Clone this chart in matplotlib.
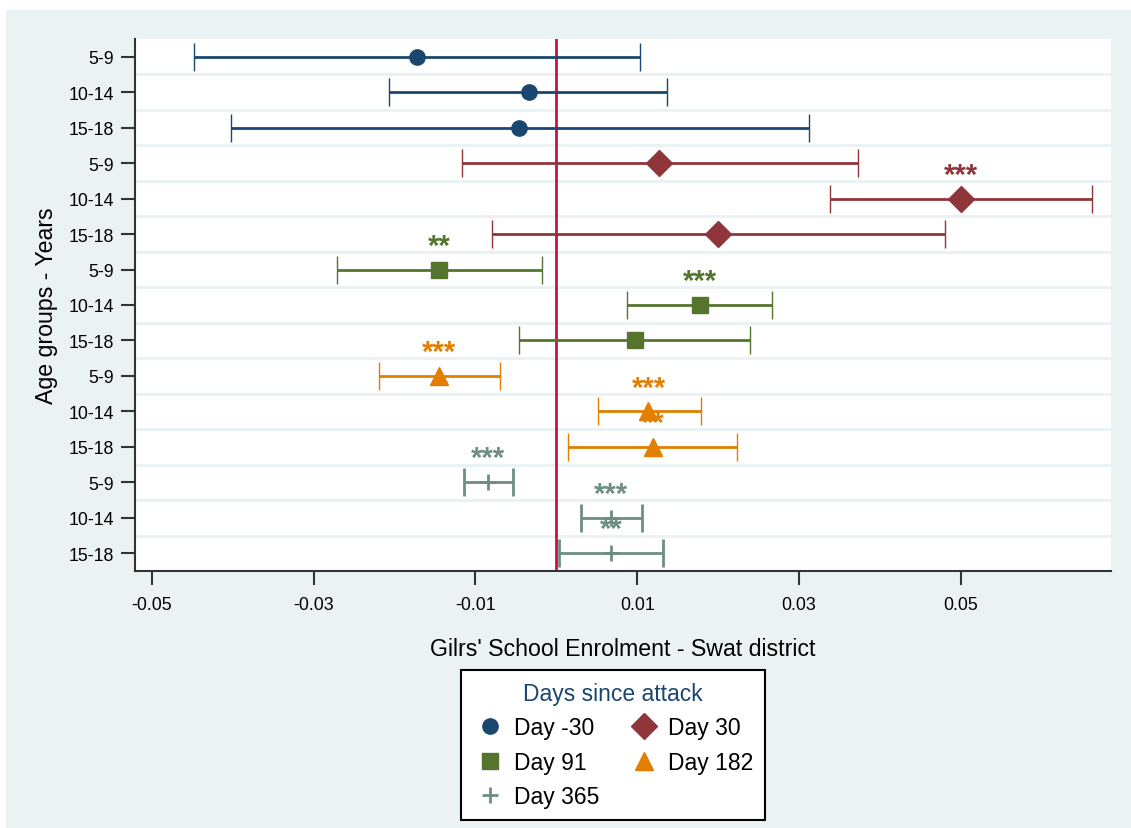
import matplotlib
matplotlib.use("Agg")
import matplotlib.pyplot as plt
from matplotlib.patches import Rectangle

plt.rcParams['font.family'] = ['Liberation Sans', 'DejaVu Sans']

# datos: coeficientes e intervalos por grupo de edad (5-9, 10-14, 15-18)
grupos = ["5-9", "10-14", "15-18"]
series = ["Day -30", "Day 30", "Day 91", "Day 182", "Day 365"]

coef = {
    "Day -30": [-0.0172, -0.0034, -0.0046],
    "Day 30":  [0.0127, 0.0500, 0.0200],
    "Day 91":  [-0.0145, 0.0178, 0.0097],
    "Day 182": [-0.0145, 0.0114, 0.0120],
    "Day 365": [-0.0084, 0.0068, 0.0068],
}
ci_lo = {
    "Day -30": [-0.0448, -0.0207, -0.0402],
    "Day 30":  [-0.0117, 0.0338, -0.0080],
    "Day 91":  [-0.0271, 0.0088, -0.0046],
    "Day 182": [-0.0219, 0.0051, 0.0015],
    "Day 365": [-0.0114, 0.0031, 0.0003],
}
ci_hi = {
    "Day -30": [0.0104, 0.0137, 0.0312],
    "Day 30":  [0.0373, 0.0663, 0.0481],
    "Day 91":  [-0.0018, 0.0267, 0.0239],
    "Day 182": [-0.0070, 0.0179, 0.0224],
    "Day 365": [-0.0053, 0.0106, 0.0132],
}
estrellas = {
    "Day -30": ["", "", ""],
    "Day 30":  ["", "***", ""],
    "Day 91":  ["**", "***", ""],
    "Day 182": ["***", "***", "**"],
    "Day 365": ["***", "***", "**"],
}

colores = {
    "Day -30": "#1A476F",
    "Day 30": "#90353B",
    "Day 91": "#55752F",
    "Day 182": "#E37E00",
    "Day 365": "#6E8E84",
}
marcadores = {"Day -30": "o", "Day 30": "D", "Day 91": "s", "Day 182": "^", "Day 365": "+"}
tamanos = {"Day -30": 11, "Day 30": 13, "Day 91": 11, "Day 182": 13, "Day 365": 11}

fig = plt.figure(figsize=(11.31, 8.29), dpi=100)
fig.patches.append(Rectangle((6 / 1131, 0), 1, 1 - 11 / 829, transform=fig.transFigure,
                             facecolor="#EAF2F3", edgecolor="none", zorder=-10))
ax = fig.add_axes([135 / 1131, 1 - 572 / 829, (1111 - 135) / 1131, (572 - 40) / 829])
ax.set_facecolor("white")

n = len(grupos)
handles = {}
for i, s in enumerate(series):
    ys = [i * n + j for j in range(n)]
    xs = coef[s]
    err = [[x - lo for x, lo in zip(xs, ci_lo[s])], [hi - x for x, hi in zip(xs, ci_hi[s])]]
    ax.errorbar(xs, ys, xerr=err, fmt=marcadores[s], color=colores[s], ms=tamanos[s],
                mew=2 if s == "Day 365" else 1, elinewidth=2, capsize=10, capthick=2,
                zorder=3)
    handles[s] = ax.plot([], [], marcadores[s], color=colores[s], ms=tamanos[s],
                         mew=2 if s == "Day 365" else 1)[0]
    for x, y, st in zip(xs, ys, estrellas[s]):
        if st:
            ax.text(x, y - 0.45, st, color=colores[s], ha="center", va="baseline",
                    fontsize=21, fontweight="bold", zorder=4)

ax.axvline(0, color="#C8143C", lw=2, zorder=2)

for k in range(len(series) * n - 1):
    ax.axhline(k + 0.5, color="#EAF2F3", lw=2.2, zorder=1)

ax.set_ylim(len(series) * n - 0.5, -0.5)
ax.set_xlim(-0.0521, 0.0686)
ax.set_yticks(range(len(series) * n))
ax.set_yticklabels(grupos * len(series))
ax.set_xticks([-0.05, -0.03, -0.01, 0.01, 0.03, 0.05])
ax.set_xticklabels(["-0.05", "-0.03", "-0.01", "0.01", "0.03", "0.05"])
ax.tick_params(axis="both", direction="out", length=10, width=1.5, color="#333333",
               labelsize=12.8, pad=5)
ax.tick_params(axis="x", pad=8)
for lado in ["top", "right"]:
    ax.spines[lado].set_visible(False)
for lado in ["left", "bottom"]:
    ax.spines[lado].set_color("#333333")
    ax.spines[lado].set_linewidth(1.5)

ax.set_xlabel("Gilrs' School Enrolment - Swat district", fontsize=16.7, labelpad=17)
ax.set_ylabel("Age groups - Years", fontsize=16.7, labelpad=8)

orden = ["Day -30", "Day 91", "Day 365", "Day 30", "Day 182"]
leg = fig.legend([handles[s] for s in orden], orden, loc="center",
                 bbox_to_anchor=(613 / 1131, 1 - 746 / 829), ncol=2, fontsize=16.5,
                 title="Days since attack", title_fontsize=16.5, fancybox=False,
                 edgecolor="black", framealpha=1, handletextpad=0.3, handlelength=1.5,
                 columnspacing=1.2, borderpad=0.5, labelspacing=0.5, borderaxespad=0)
leg.get_title().set_color("#1A476F")
leg.get_frame().set_linewidth(1.5)

fig.savefig("out.png", dpi=100)
